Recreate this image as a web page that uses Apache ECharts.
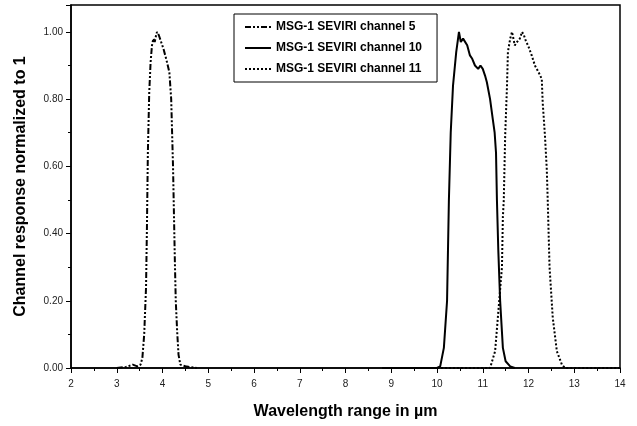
<!DOCTYPE html>
<html>
<head>
<meta charset="utf-8">
<script src="https://cdn.jsdelivr.net/npm/echarts@6/dist/echarts.min.js"></script>
<style>
  html, body { margin: 0; padding: 0; background: #fff; }
  #chart { width: 637px; height: 426px; }
</style>
</head>
<body>
<div id="chart"></div>
<script>
// wavelength (µm) / normalized response pairs
var ch5 = [
  [3.0, 0], [3.2, 0.003], [3.35, 0.01], [3.45, 0.005], [3.52, 0.01], [3.56, 0.03],
  [3.6, 0.1], [3.64, 0.24], [3.66, 0.42], [3.68, 0.64], [3.71, 0.82], [3.74, 0.91],
  [3.77, 0.96], [3.8, 0.98], [3.83, 0.97], [3.86, 0.99], [3.88, 1.0], [3.92, 0.99],
  [3.97, 0.97], [4.02, 0.95], [4.08, 0.92], [4.15, 0.88], [4.19, 0.8], [4.21, 0.7],
  [4.23, 0.6], [4.25, 0.46], [4.27, 0.32], [4.29, 0.2], [4.32, 0.11], [4.35, 0.04],
  [4.39, 0.01], [4.5, 0.005], [4.6, 0.003], [4.75, 0]
];
var ch10 = [
  [8.8, 0], [10.0, 0], [10.07, 0.005], [10.15, 0.06], [10.22, 0.2], [10.26, 0.5],
  [10.3, 0.7], [10.35, 0.84], [10.42, 0.94], [10.48, 1.0], [10.52, 0.97], [10.57, 0.98],
  [10.66, 0.96], [10.72, 0.93], [10.77, 0.92], [10.83, 0.9], [10.9, 0.89], [10.95, 0.9],
  [11.0, 0.89], [11.05, 0.87], [11.09, 0.85], [11.16, 0.8], [11.22, 0.74], [11.26, 0.7],
  [11.29, 0.64], [11.31, 0.5], [11.34, 0.35], [11.38, 0.2], [11.44, 0.06], [11.5, 0.02],
  [11.6, 0.005], [11.7, 0]
];
var ch11 = [
  [10.0, 0], [11.16, 0], [11.27, 0.05], [11.33, 0.15], [11.42, 0.3], [11.44, 0.45],
  [11.46, 0.5], [11.49, 0.69], [11.53, 0.84], [11.55, 0.94], [11.6, 0.98], [11.64, 1.0],
  [11.7, 0.96], [11.75, 0.97], [11.81, 0.98], [11.86, 1.0], [11.9, 0.99], [11.95, 0.97],
  [11.99, 0.96], [12.07, 0.93], [12.14, 0.9], [12.18, 0.89], [12.22, 0.88], [12.29, 0.86],
  [12.31, 0.79], [12.36, 0.69], [12.4, 0.59], [12.42, 0.5], [12.46, 0.3], [12.53, 0.15],
  [12.62, 0.05], [12.73, 0.01], [12.8, 0], [14.0, 0]
];
var seriesNames = ['MSG-1 SEVIRI channel 5', 'MSG-1 SEVIRI channel 10', 'MSG-1 SEVIRI channel 11'];

var myChart = echarts.init(document.getElementById('chart'));
var fontColor = '#222';

var option = {
  animation: false,
  backgroundColor: '#fff',
  textStyle: { fontFamily: 'Liberation Sans, Arial, sans-serif' },
  grid: {
    left: 71, right: 17, top: 5, bottom: 58,
    show: true, borderColor: '#000', borderWidth: 1.5
  },
  legend: {
    orient: 'vertical',
    left: 234, top: 14,
    padding: [7, 15, 7, 10],
    borderColor: '#000', borderWidth: 1,
    itemWidth: 26, itemHeight: 12, itemGap: 9,
    itemStyle: { color: 'transparent', borderWidth: 0, opacity: 0 },
    textStyle: { fontSize: 12, fontWeight: 'bold', color: '#000' },
    data: seriesNames
  },
  xAxis: {
    type: 'value',
    min: 2, max: 14, interval: 1,
    name: 'Wavelength range in µm',
    nameLocation: 'middle', nameGap: 36,
    nameTextStyle: { fontSize: 16, fontWeight: 'bold', color: '#000' },
    axisLine: { lineStyle: { color: '#000', width: 1.5 } },
    axisTick: { length: 5, lineStyle: { color: '#000' } },
    minorTick: { show: true, splitNumber: 2, length: 3, lineStyle: { color: '#000' } },
    axisLabel: { fontSize: 10, color: fontColor, margin: 11 },
    splitLine: { show: false }
  },
  yAxis: {
    type: 'value',
    min: 0, max: 1.08, interval: 0.2,
    name: 'Channel response normalized to 1',
    nameLocation: 'middle', nameGap: 42,
    nameTextStyle: { fontSize: 16, fontWeight: 'bold', color: '#000' },
    axisLine: { show: true, lineStyle: { color: '#000', width: 1.5 } },
    axisTick: { length: 5, lineStyle: { color: '#000' } },
    minorTick: { show: true, splitNumber: 2, length: 3, lineStyle: { color: '#000' } },
    axisLabel: {
      fontSize: 10, color: fontColor, margin: 8,
      formatter: function (v) { return v > 1.001 ? '' : v.toFixed(2); }
    },
    splitLine: { show: false }
  },
  series: [{
    name: seriesNames[0],
    type: 'line',
    symbol: 'none',
    data: ch5,
    lineStyle: { color: '#000', width: 2, type: [6, 2, 2, 2, 2, 2] },
    itemStyle: { color: '#000' }
  }, {
    name: seriesNames[1],
    type: 'line',
    symbol: 'none',
    data: ch10,
    lineStyle: { color: '#000', width: 2, type: 'solid' },
    itemStyle: { color: '#000' }
  }, {
    name: seriesNames[2],
    type: 'line',
    symbol: 'none',
    data: ch11,
    lineStyle: { color: '#000', width: 2, type: [2, 2] },
    itemStyle: { color: '#000' }
  }]
};
myChart.setOption(option);
</script>
</body>
</html>
